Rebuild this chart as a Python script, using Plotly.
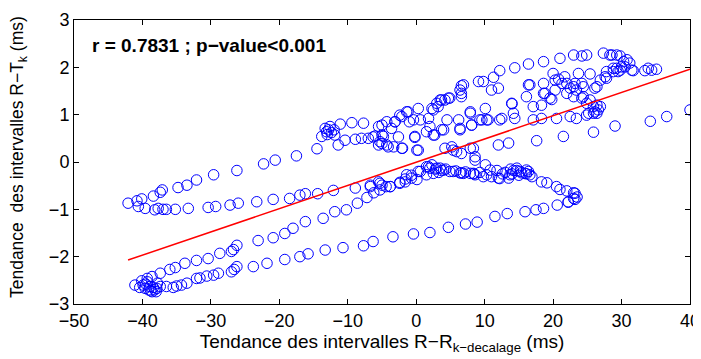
import plotly.graph_objects as go

# --- data (ms) ---
low_x = [-36.5,-35.5,-35.0,-34.3,-33.5,-32.1,-31.6,-30.6,-29.6,-28.9,-27.0,-26.6,-26.2,-23.8,-21.8,-19.2,-17.0,-15.8,-13.3,-10.7,-7.7,-6.3,-3.4,-0.4,2.0,4.7,7.2,8.9,11.5,13.3,15.9,17.5,18.6,20.6,22.2,23.2,23.5]
low_y = [-2.63,-2.65,-2.62,-2.60,-2.56,-2.46,-2.45,-2.41,-2.39,-2.35,-2.32,-2.27,-2.21,-2.21,-2.14,-2.06,-2.00,-1.94,-1.86,-1.81,-1.77,-1.68,-1.58,-1.52,-1.49,-1.38,-1.31,-1.27,-1.15,-1.09,-1.05,-1.01,-0.98,-0.91,-0.85,-0.79,-0.74]

cluster_x = [-41.1,-40.4,-39.9,-39.6,-39.3,-39.1,-38.9,-38.6,-38.4,-38.2,-37.9,-37.4,-38.8,-38.0,-39.5,-37.8]
cluster_y = [-2.60,-2.65,-2.60,-2.67,-2.53,-2.70,-2.63,-2.74,-2.65,-2.70,-2.67,-2.63,-2.72,-2.74,-2.58,-2.56]

rise_x = [-40.1,-39.3,-38.6,-37.4,-36.0,-35.2,-33.8,-32.1,-30.4,-28.7,-27.0,-26.7,-26.2,-23.1,-20.9,-19.2,-18.0,-16.2,-13.6,-11.9,-10.2,-8.6,-7.2,-6.2,-6.7,-5.3,-5.5,-4.4,-3.8,-5.0]
rise_y = [-2.51,-2.46,-2.42,-2.35,-2.27,-2.23,-2.14,-2.08,-2.04,-1.93,-1.89,-1.85,-1.76,-1.66,-1.60,-1.51,-1.40,-1.26,-1.19,-1.05,-1.01,-0.87,-0.75,-0.65,-0.52,-0.59,-0.42,-0.52,-0.52,-0.49]

mid_x = [-42.1,-40.8,-40.1,-40.6,-39.6,-38.2,-37.7,-37.0,-36.5,-35.2,-33.3,-30.4,-29.3,-27.2,-26.0,-23.3,-20.9,-18.5,-17.0,-16.2,-14.4,-12.1,-8.9,-6.7,-5.3,-3.8,-2.4,-1.6,-0.7,0.1,0.6,1.5,2.3,3.0,4.0,5.4,6.6,8.4]
mid_y = [-0.87,-0.82,-0.78,-0.94,-0.98,-1.01,-0.98,-1.00,-1.00,-1.00,-0.98,-0.96,-0.94,-0.91,-0.87,-0.84,-0.79,-0.77,-0.70,-0.67,-0.67,-0.60,-0.55,-0.49,-0.45,-0.52,-0.43,-0.36,-0.28,-0.37,-0.20,-0.10,-0.06,-0.13,-0.17,-0.20,-0.23,-0.25]

arch_x = [23.0,22.0,21.0,20.5,19.1,18.3,16.9,16.1,15.4,14.7,14.2,13.5,12.0,11.8,10.3,8.6,7.9,6.4,4.9,3.7,2.5,1.8,1.5,0.3,-0.7,-1.6,-2.4,23.2,22.2,23.0,13.7,15.2,15.9,16.6,16.1,14.7,12.2,11.0,9.8,6.9,8.35,10.8,10.1,8.6,8.35,6.6,-1.4,3.5,2.0,13.0,14.0,15.0,16.4,13.8,12.6,2.8,3.3,4.3,5.8,7.2,9.3]
arch_y = [-0.65,-0.61,-0.58,-0.52,-0.44,-0.42,-0.31,-0.25,-0.23,-0.18,-0.18,-0.34,-0.34,-0.18,-0.27,-0.27,-0.24,-0.23,-0.20,-0.18,-0.24,-0.10,-0.27,-0.20,-0.34,-0.42,-0.45,-0.66,-0.84,-0.77,-0.27,-0.20,-0.24,-0.27,-0.17,-0.13,-0.35,-0.31,-0.31,-0.24,-0.24,-0.17,-0.06,0.04,0.29,0.18,-0.27,-0.13,-0.13,-0.22,-0.25,-0.28,-0.20,-0.15,-0.25,-0.15,-0.22,-0.15,-0.19,-0.21,-0.22]

up_x = [-38.4,-37.4,-37.1,-34.8,-33.5,-32.1,-29.6,-26.2,-22.3,-20.6,-17.5,-14.5]
up_y = [-0.72,-0.64,-0.59,-0.54,-0.49,-0.38,-0.27,-0.18,-0.04,0.04,0.13,0.28]

band_x = [-13.8,-13.3,-13.1,-12.6,-12.8,-12.4,-11.9,-11.1,-11.4,-10.4,-9.4,-8.9,-7.7,-8.0,-7.0,-6.3,-6.0,-5.5,-5.5,-5.0,-4.3,-4.1,-3.1,-2.6,-2.1,-2.0,-1.2,-0.2,0.1,0.3,0.6,1.8,1.5,2.3,2.5,3.0,3.7,4.0,4.5,4.9,5.4,6.2,6.4,6.6,6.9,7.9,8.1,9.1,-5.0,-5.0,-5.3,-4.8,-4.3,-3.3,-2.1,-3.6,-0.4,-1.4,-2.4,-3.1,2.0,2.7,3.7,-0.2,0.3,4.2,5.2,5.9,7.9,8.6,6.4,8.1,6.4,6.6,4.2,3.2,2.5,3.5,4.7,-1.0,-12.0,-13.0]
band_y = [0.54,0.71,0.64,0.75,0.68,0.62,0.57,0.80,0.36,0.46,0.83,0.48,0.82,0.50,0.50,0.53,0.55,0.75,0.36,0.39,0.85,0.32,0.85,0.53,0.96,0.29,1.06,0.52,0.25,1.13,0.89,0.92,0.64,1.13,0.57,1.24,1.31,0.68,0.89,1.35,0.25,0.89,0.68,1.45,1.63,1.06,0.78,1.70,0.78,0.57,0.43,0.54,0.36,0.32,0.29,0.71,0.89,1.06,0.99,0.85,0.75,0.57,0.68,0.54,0.25,0.29,0.32,0.22,0.29,0.11,0.71,0.78,1.52,1.38,1.31,1.17,1.10,1.31,1.35,0.85,0.68,0.58]

right_x = [6.6,9.8,11.3,12.2,14.4,16.4,18.6,21.0,23.0,24.2,24.9,27.35,28.3,29.3,29.8,30.8,31.2,30.5,29.3,31.7,33.4,33.9,34.4,35.1,30.0,30.3,28.8,28.6,29.5,31.5,
           7.9,9.3,10.3,10.1,10.5,9.6,12.5,14.4,14.2,14.0,17.1,17.1,18.3,18.3,19.8,18.6,18.8,19.55,20.3,22.0,22.5,23.4,24.2,24.4,25.4,26.1,26.9,27.8,28.8,29.8,16.4,18.6,20.3,21.7,23.7,25.4,20.0,20.8,21.3,23.0,22.0,23.2,24.4,26.4,27.6,27.8,25.9,26.4,25.2,20.5,22.5,23.4,24.9,25.9,26.6,26.9,26.1,26.4,24.9,24.2,23.0,16.1,11.0,12.0,13.95,16.6,12.2]
right_y = [1.61,1.70,1.79,1.93,1.99,2.07,2.12,2.19,2.26,2.24,2.26,2.30,2.26,2.26,2.24,2.16,2.09,2.01,1.98,1.93,1.93,1.98,1.94,1.96,2.01,2.12,1.98,2.26,1.91,1.94,
           1.03,0.89,0.89,1.13,0.89,0.89,0.92,0.92,1.03,1.23,0.89,1.17,0.92,1.20,1.32,1.45,1.45,1.35,1.52,1.45,1.56,1.52,1.66,1.38,1.31,1.56,1.73,1.77,1.91,1.94,1.63,1.66,1.73,1.80,1.87,1.86,1.87,1.75,1.66,1.59,1.66,1.66,1.59,1.59,1.80,1.91,1.17,1.03,1.03,0.92,0.96,0.92,0.99,1.03,1.10,1.17,1.06,1.20,1.24,1.35,1.38,1.38,1.52,1.56,1.24,1.63,0.89]

sparse_x = [12.0,13.5,17.6,21.5,25.9,29.05,34.2,36.6,40.0]
sparse_y = [0.36,0.40,0.45,0.54,0.63,0.76,0.86,0.96,1.10]

# regression line
fit_slope = 0.0491
fit_intercept = -0.004
annotation_text = "r = 0.7831 ; p\u2212value<0.001"
x_title = "Tendance des intervalles R\u2212R<sub>k\u2212decalage</sub> (ms)"
y_title = "Tendance  des intervalles R\u2212T<sub>k</sub> (ms)"

x_all = low_x + cluster_x + rise_x + mid_x + arch_x + up_x + band_x + right_x + sparse_x
y_all = low_y + cluster_y + rise_y + mid_y + arch_y + up_y + band_y + right_y + sparse_y

fx = [min(x_all), max(x_all)]
fy = [fit_slope * v + fit_intercept for v in fx]

FONT = "Liberation Sans, Arial, Helvetica, sans-serif"

fig = go.Figure()
fig.add_trace(go.Scatter(
    x=x_all, y=y_all, mode="markers",
    marker=dict(symbol="circle-open", size=10.5, color="#0000ff", line=dict(width=1, color="#0000ff")),
    showlegend=False, hoverinfo="skip"))
fig.add_trace(go.Scatter(
    x=fx, y=fy, mode="lines", line=dict(color="#ff0000", width=1.5),
    showlegend=False, hoverinfo="skip"))

fig.add_annotation(x=-47.6, y=2.47, xref="x", yref="y", text="<b>" + annotation_text + "</b>",
                   showarrow=False, xanchor="left", yanchor="middle",
                   font=dict(family=FONT, size=19, color="black"))

# y axis title as rotated text placed left of the tick labels
fig.add_annotation(x=-0.089, y=0.518, xref="paper", yref="paper", text=y_title,
                   showarrow=False, textangle=-90, xanchor="center", yanchor="middle",
                   font=dict(family=FONT, size=17.5, color="black"))

axis_common = dict(showline=True, linecolor="black", linewidth=1, mirror="ticks",
                   ticks="inside", ticklen=5, tickcolor="black", showgrid=False, zeroline=False,
                   automargin=False,
                   tickfont=dict(family=FONT, size=18, color="black"))

fig.update_xaxes(range=[-50, 40], tick0=-50, dtick=10,
                 title=dict(text=x_title, font=dict(family=FONT, size=19, color="black"), standoff=2),
                 **axis_common)
fig.update_yaxes(range=[-3, 3], tick0=-3, dtick=1, **axis_common)

# page body has an 8px margin, so the figure is sized/offset to compensate
fig.update_layout(width=693, height=351, margin=dict(l=66, r=11, t=12, b=55),
                  plot_bgcolor="white", paper_bgcolor="white")

fig.write_html("out.html")
